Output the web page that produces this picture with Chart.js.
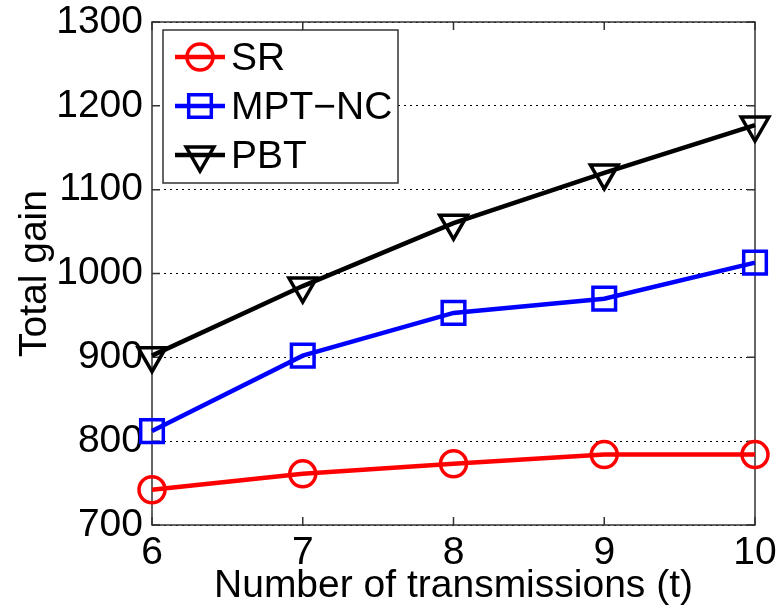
<!DOCTYPE html>
<html><head><meta charset="utf-8">
<script src="https://cdn.jsdelivr.net/npm/chart.js@4/dist/chart.umd.min.js"></script>
<style>html,body{margin:0;background:#fff}</style>
</head><body>
<canvas id="c" width="780" height="611"></canvas>
<script>
"use strict";
// values
const TRANSMISSIONS = [6, 7, 8, 9, 10];
const SR     = [742, 761, 773, 784, 784];
const MPT_NC = [812, 902, 953, 970, 1013];
const PBT    = [902, 985, 1060, 1120, 1177];
const X_TICKS = [6, 7, 8, 9, 10];
const Y_TICKS = [700, 800, 900, 1000, 1100, 1200, 1300];

const FONT = "'Liberation Sans', Arial, sans-serif";
const FS = 39;
const pts = ys => ys.map((v, i) => ({x: TRANSMISSIONS[i], y: v}));

// MATLAB-ish frame: box + inward tick marks on all four sides
const frame = {
  id: 'frame',
  beforeDatasetsDraw(chart) {
    const {ctx, chartArea: a, scales: {x, y}} = chart;
    ctx.save();
    ctx.strokeStyle = '#333'; ctx.lineWidth = 1.5; ctx.setLineDash([]);
    ctx.strokeRect(a.left, a.top, a.right - a.left, a.bottom - a.top);
    ctx.beginPath();
    X_TICKS.forEach(v => {
      const p = x.getPixelForValue(v);
      ctx.moveTo(p, a.bottom); ctx.lineTo(p, a.bottom - 8);
      ctx.moveTo(p, a.top); ctx.lineTo(p, a.top + 8);
    });
    Y_TICKS.forEach(v => {
      const p = y.getPixelForValue(v);
      ctx.moveTo(a.left, p); ctx.lineTo(a.left + 8, p);
      ctx.moveTo(a.right, p); ctx.lineTo(a.right - 8, p);
    });
    ctx.stroke();
    ctx.restore();
  }
};

// legend box inside the upper-left of the plot
const boxLegend = {
  id: 'boxLegend',
  afterDatasetsDraw(chart) {
    const ctx = chart.ctx, a = chart.chartArea;
    const x0 = a.left + 11, y0 = a.top + 8, w = 235, h = 153;
    ctx.save();
    ctx.fillStyle = '#fff'; ctx.fillRect(x0, y0, w, h);
    ctx.strokeStyle = '#333'; ctx.lineWidth = 1.5; ctx.strokeRect(x0, y0, w, h);
    chart.data.datasets.forEach((ds, i) => {
      const yy = y0 + 27 + i * 49;
      ctx.strokeStyle = ds.borderColor; ctx.lineWidth = ds.borderWidth;
      ctx.beginPath(); ctx.moveTo(x0 + 12, yy); ctx.lineTo(x0 + 62, yy); ctx.stroke();
      ctx.fillStyle = 'rgba(0,0,0,0)';
      ctx.lineWidth = ds.pointBorderWidth;
      Chart.helpers.drawPoint(ctx, {pointStyle: ds.pointStyle, rotation: ds.pointRotation || 0,
        radius: ds.pointRadius, borderWidth: ds.pointBorderWidth}, x0 + 37, yy);
      ctx.fillStyle = '#000'; ctx.font = FS + 'px ' + FONT;
      ctx.textBaseline = 'middle'; ctx.textAlign = 'left';
      ctx.fillText(ds.label, x0 + 68, yy + 2);
    });
    ctx.restore();
  }
};

const line = (label, data, color, style, r, rot) => ({
  label, data: pts(data), borderColor: color, borderWidth: 4.5,
  pointStyle: style, pointRadius: r, pointRotation: rot || 0,
  pointBorderColor: color, pointBackgroundColor: 'rgba(0,0,0,0)', pointBorderWidth: 3.5,
  clip: false, tension: 0
});

new Chart(document.getElementById('c'), {
  type: 'line',
  data: {datasets: [
    line('SR', SR, '#ff0000', 'circle', 13),
    line('MPT−NC', MPT_NC, '#0000ff', 'rect', 16),
    line('PBT', PBT, '#000000', 'triangle', 16, 180),
  ]},
  options: {
    responsive: false, devicePixelRatio: 1, animation: false, events: [],
    layout: {padding: {top: 22, right: 25, left: 0, bottom: 0}},
    plugins: {legend: {display: false}, tooltip: {enabled: false}},
    scales: {
      x: {
        type: 'linear', min: 6, max: 10,
        afterBuildTicks: s => { s.ticks = X_TICKS.map(v => ({value: v})); },
        afterFit: s => { s.height = 86; s.paddingLeft = 0; s.paddingRight = 0; },
        grid: {display: false}, border: {display: false},
        ticks: {color: '#000', padding: 1, font: {family: FONT, size: FS, lineHeight: 1},
          maxRotation: 0, callback: v => String(v)},
        title: {display: true, text: 'Number of transmissions (t)', color: '#000',
          font: {family: FONT, size: FS}, padding: {top: 0, bottom: 1}}
      },
      y: {
        type: 'linear', min: 700, max: 1300,
        afterBuildTicks: s => { s.ticks = Y_TICKS.map(v => ({value: v})); },
        afterFit: s => { s.width = 152; s.paddingTop = 0; s.paddingBottom = 0; },
        grid: {color: '#000', lineWidth: 1, drawTicks: false},
        border: {display: false, dash: [2, 4]},
        ticks: {color: '#000', padding: 9, font: {family: FONT, size: FS, lineHeight: 1},
          callback: v => String(v)},
        title: {display: true, text: 'Total gain', color: '#000',
          font: {family: FONT, size: FS}, padding: {top: 12, bottom: 0}}
      }
    }
  },
  plugins: [frame, boxLegend]
});
</script>
</body></html>
